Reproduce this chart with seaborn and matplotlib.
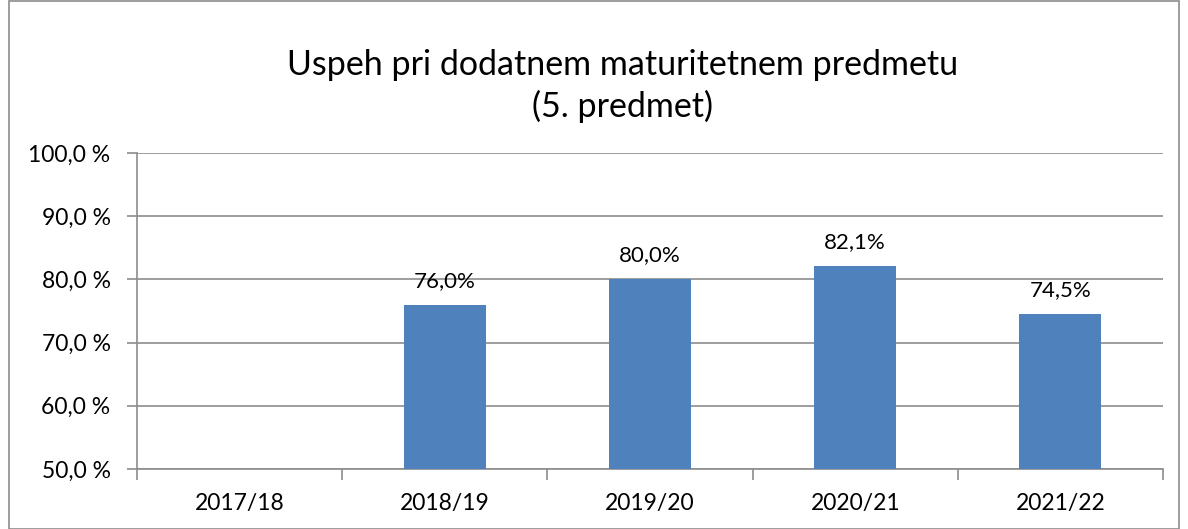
import matplotlib
matplotlib.use("Agg")
import matplotlib.pyplot as plt
import seaborn as sns
import pandas as pd
from matplotlib.patches import Rectangle
from matplotlib.ticker import FixedLocator

years = ["2017/18", "2018/19", "2019/20", "2020/21", "2021/22"]
values = [0.0, 76.0, 80.0, 82.1, 74.5]
value_labels = ["", "76,0%", "80,0%", "82,1%", "74,5%"]
yticks = [50, 60, 70, 80, 90, 100]
ytick_labels = ["50,0 %", "60,0 %", "70,0 %", "80,0 %", "90,0 %", "100,0 %"]
title = "Uspeh pri dodatnem maturitetnem predmetu\n(5. predmet)"

sns.set_theme(style="white")
plt.rcParams["font.family"] = ["Lato", "DejaVu Sans"]

df = pd.DataFrame({"year": years, "value": values})

fig = plt.figure(figsize=(11.88, 5.29), dpi=100)
ax = fig.add_axes([137/1188, 1 - 469/529, (1163-137)/1188, (469-153)/529])

sns.barplot(data=df, x="year", y="value", color="#4F81BD", saturation=1,
            width=0.4, ax=ax, zorder=3, linewidth=0, edgecolor="none")

ax.set_ylim(50, 100)
ax.set_xlim(-0.5, len(years) - 0.5)
ax.set_yticks(yticks)
ax.set_yticklabels(ytick_labels, fontsize=16.5, color="black")
ax.yaxis.grid(True, color="#8C8C8C", linewidth=1.2, zorder=0)
ax.set_axisbelow(True)
ax.tick_params(axis="y", length=7, width=1.2, color="#8C8C8C", pad=12, left=True)
ax.tick_params(axis="x", which="major", length=0, pad=17, labelsize=16.5, labelcolor="black")
ax.xaxis.set_minor_locator(FixedLocator([i - 0.5 for i in range(len(years) + 1)]))
ax.tick_params(axis="x", which="minor", length=8, width=1.2, color="#8C8C8C", bottom=True)
ax.set_xlabel("")
ax.set_ylabel("")

for s in ["top", "right"]:
    ax.spines[s].set_visible(False)
for s in ["left", "bottom"]:
    ax.spines[s].set_color("#8C8C8C")
    ax.spines[s].set_linewidth(1.2)

for p, lab in zip(ax.patches, value_labels):
    if lab:
        ax.annotate(lab, (p.get_x() + p.get_width() / 2, p.get_height()),
                    xytext=(0, 10), textcoords="offset points",
                    ha="center", va="bottom", fontsize=16, color="black")

fig.text(623/1188, 1 - 86/529, title, ha="center", va="center", fontsize=24.5,
         linespacing=1.33, color="black")

fig.patches.append(Rectangle((9/1188, 0.0), 1 - 18/1188, 1 - 1/529, transform=fig.transFigure,
                             fill=False, edgecolor="#8C8C8C", linewidth=1.2))

fig.savefig("out.png", dpi=100)
